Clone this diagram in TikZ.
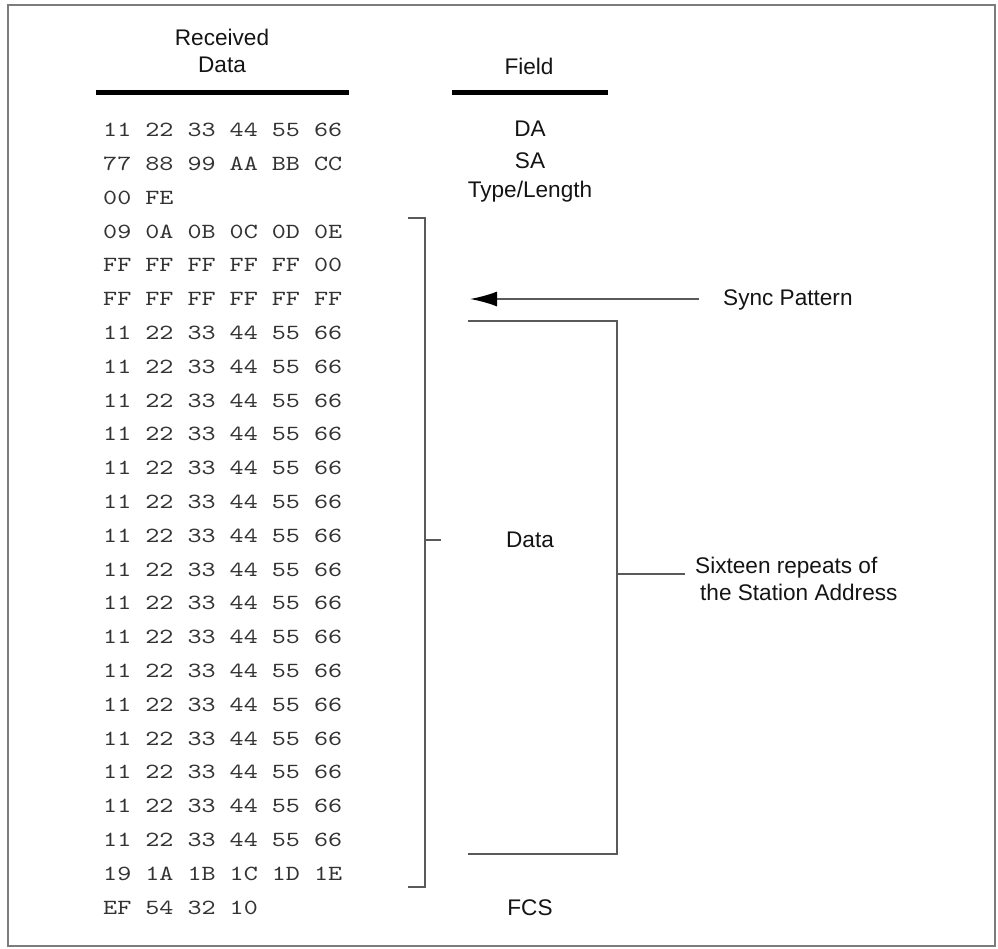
\documentclass[tikz,border=0pt]{standalone}
\usepackage{fontspec}
\setmainfont{Liberation Sans}
\newfontfamily\hexfont{lmmono10-regular.otf}[FakeStretch=1.24]
\usetikzlibrary{positioning, calc, arrows.meta}
\definecolor{ink}{HTML}{141414}
\definecolor{hexc}{HTML}{333333}
\definecolor{linec}{HTML}{595959}
\definecolor{framec}{HTML}{7C7C7C}
\newcommand{\LabelF}{\fontsize{22.6}{27}\selectfont}
\newcommand{\HexF}{\fontsize{21.6}{28}\hexfont}
\newcommand{\hexrow}[2]{%
  \node[hexrow] (r#1) at (103,{130+33.8*(#1-1)}) {#2};
}
\tikzset{
  hexrow/.style={anchor=west, inner sep=0, font=\HexF, text=hexc},
  fieldlbl/.style={inner sep=0, font=\LabelF, text=ink},
  bracket/.style={draw=linec, line width=1.8},
  heavyrule/.style={draw=black, line width=5},
}

\begin{document}
\begin{tikzpicture}[x=1pt,y=-1pt]
\useasboundingbox (0,0) rectangle (998,948);
\draw[framec, line width=2.5] (8,5) rectangle (995,946);

% column heads
\node[fieldlbl, align=center] (rxhead) at (222,51) {Received\\Data};
\node[fieldlbl] (fieldhead) at (529,66) {Field};
\draw[heavyrule] (96,92) -- (349,92);
\draw[heavyrule] (452,92) -- (608,92);

% received bytes
\hexrow{1}{11 22 33 44 55 66}
\hexrow{2}{77 88 99 AA BB CC}
\hexrow{3}{00 FE}
\hexrow{4}{09 0A 0B 0C 0D 0E}
\hexrow{5}{FF FF FF FF FF 00}
\hexrow{6}{FF FF FF FF FF FF}
\foreach \k in {7,...,22} {
  \hexrow{\k}{11 22 33 44 55 66}
}
\hexrow{23}{19 1A 1B 1C 1D 1E}
\hexrow{24}{EF 54 32 10}

% field names
\node[fieldlbl] (da) at (530,129) {DA};
\node[fieldlbl] (sa) at (530,161) {SA};
\node[fieldlbl] (tl) at (530,192) {Type/Length};
\node[fieldlbl] (data) at (530,540) {Data};
\node[fieldlbl] (fcs) at (530,908) {FCS};

% data bracket
\coordinate (dtop) at (425,218);
\coordinate (dbot) at (425,887);
\coordinate (dmid) at (441,540);
\draw[bracket] ($(dtop)+(-17,0)$) -- (dtop) -- (dbot) -- ++(-17,0);
\draw[bracket] (dtop |- dmid) -- (dmid);

% sync pattern
\node[fieldlbl, anchor=west] (sync) at (723,300) {Sync Pattern};
\coordinate (synctip) at (470,299);
\draw[draw=linec, line width=1.8, shorten <=24pt,
      -{Latex[length=27pt, width=15pt, color=black]}]
  (sync.west |- synctip) -- (synctip);

% station address repeats
\coordinate (stop) at (617,321);
\coordinate (sbot) at (617,854);
\node[fieldlbl, anchor=west, align=left] (repeats) at (695,579) {Sixteen repeats of\\\hspace{5pt}the Station Address};
\draw[bracket] (468,321) -- (stop) -- (sbot) -- (468,854);
\draw[bracket] (stop |- 0,574) -- ($(repeats.west |- 0,574)+(-10,0)$);
\end{tikzpicture}
\end{document}
